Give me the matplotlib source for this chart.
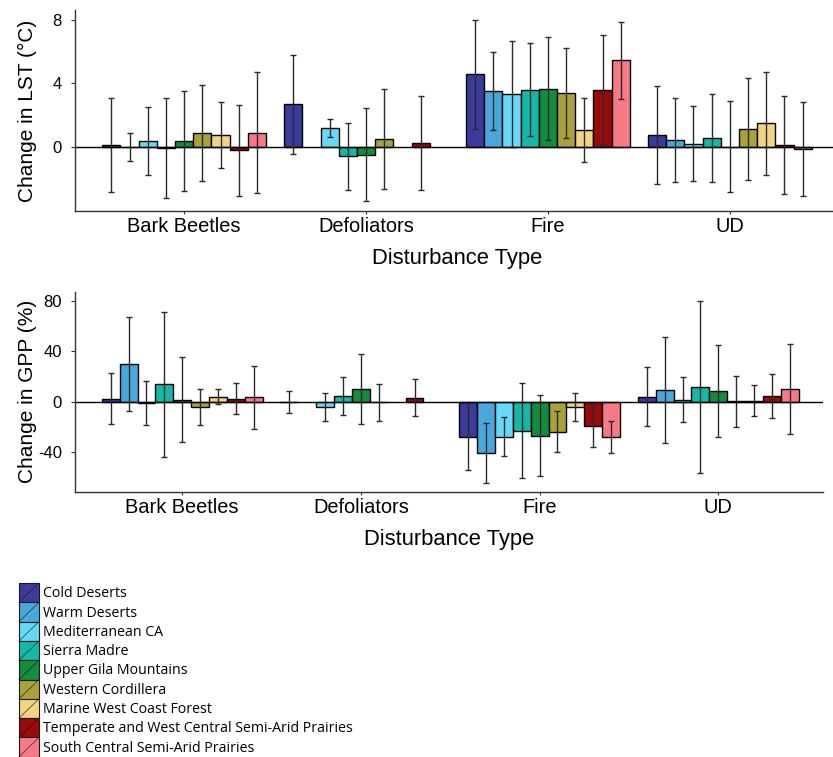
import numpy as np
import matplotlib
matplotlib.use("Agg")
import matplotlib.pyplot as plt
import matplotlib.transforms as mtransforms
from matplotlib.patches import Rectangle
from matplotlib.lines import Line2D
from matplotlib.legend_handler import HandlerBase

plt.rcParams['font.family'] = ['Liberation Sans', 'DejaVu Sans']
plt.rcParams['axes.unicode_minus'] = False

nan = np.nan

disturbances = ["Bark Beetles", "Defoliators", "Fire", "UD"]
ecoregions = ["Cold Deserts", "Warm Deserts", "Mediterranean CA", "Sierra Madre",
              "Upper Gila Mountains", "Western Cordillera", "Marine West Coast Forest",
              "Temperate and West Central Semi-Arid Prairies",
              "South Central Semi-Arid Prairies"]
colors = ["#3b3b9c", "#48a8dc", "#66d9f7", "#14b8a6", "#138c3e",
          "#aaa238", "#f0d484", "#990a0a", "#f57a86"]

# rows = disturbance type, columns = ecoregion
lst_mean = [
    [0.12, 0.03, 0.38, -0.06, 0.38, 0.90, 0.77, -0.20, 0.92],
    [2.68, nan, 1.23, -0.57, -0.46, 0.53, nan, 0.24, nan],
    [4.56, 3.52, 3.33, 3.60, 3.66, 3.39, 1.08, 3.59, 5.44],
    [0.77, 0.46, 0.22, 0.58, 0.02, 1.14, 1.49, 0.14, -0.12],
]
lst_err = [
    [2.95, 0.88, 2.15, 3.12, 3.12, 3.00, 2.06, 2.87, 3.78],
    [3.13, nan, 0.56, 2.10, 2.92, 3.12, nan, 2.94, nan],
    [3.40, 2.45, 3.33, 2.90, 3.22, 2.80, 2.00, 3.43, 2.42],
    [3.08, 2.63, 2.35, 2.76, 2.85, 3.18, 3.23, 3.05, 2.96],
]
gpp_mean = [
    [2.6, 30.0, -0.6, 13.8, 1.8, -4.0, 4.1, 2.5, 3.6],
    [-0.5, nan, -4.2, 4.3, 10.1, -0.5, nan, 3.3, nan],
    [-27.4, -40.5, -27.5, -22.7, -26.8, -23.5, -4.0, -19.3, -27.7],
    [4.0, 9.2, 1.8, 11.8, 8.5, 0.3, 1.0, 4.4, 9.9],
]
gpp_err = [
    [20.5, 37.2, 17.4, 57.4, 33.5, 14.0, 5.9, 12.4, 24.8],
    [8.7, nan, 11.0, 15.0, 28.0, 14.4, nan, 14.5, nan],
    [26.2, 23.5, 15.5, 37.6, 32.0, 16.4, 11.0, 16.4, 12.7],
    [23.2, 42.0, 18.0, 68.0, 36.3, 20.3, 12.4, 17.5, 35.6],
]


class DiagBox(HandlerBase):
    # legend patch with a single diagonal stroke
    def create_artists(self, legend, orig_handle, xdescent, ydescent,
                       width, height, fontsize, trans):
        x0, y0 = -xdescent, -ydescent
        r = Rectangle((x0, y0), width, height, facecolor=orig_handle.get_facecolor(),
                      edgecolor="#1a1a1a", lw=0.8, transform=trans)
        l = Line2D([x0, x0 + width], [y0, y0 + height], color="#1a1a1a",
                   lw=0.6, alpha=0.7, transform=trans)
        return [r, l]


W, H = 833, 757
fig = plt.figure(figsize=(W / 100, H / 100), dpi=100)

ax1 = fig.add_axes([75 / W, 1 - 211 / H, 764 / W, 201 / H])
ax2 = fig.add_axes([75 / W, 1 - 491.7 / H, 748 / W, 200 / H])

bw = 0.1
x = np.arange(len(disturbances))


def draw_panel(ax, mean, err, ylim, yticks, ylabel, xmax):
    mean = np.array(mean)
    err = np.array(err)
    for j in range(len(ecoregions)):
        pos = x + (j - 4) * bw
        ax.bar(pos, mean[:, j], width=bw, color=colors[j], edgecolor="black",
               linewidth=1.0, zorder=2)
        ax.errorbar(pos, mean[:, j], yerr=err[:, j], fmt="none", ecolor="#2a2a2a",
                    elinewidth=1.0, capsize=2, capthick=1.0, zorder=3)
    ax.axhline(0, color="black", lw=1.0, zorder=4)
    ax.set_xlim(-0.6, xmax)
    ax.set_ylim(*ylim)
    ax.set_yticks(yticks)
    ax.set_xticks(x)
    ax.set_xticklabels(disturbances, fontsize=14.4)
    ax.tick_params(axis="y", labelsize=12, length=2.9, pad=6.6, color="#333333")
    ax.tick_params(axis="x", length=2.2, pad=2.0, color="#333333")
    for s in ["top", "right"]:
        ax.spines[s].set_visible(False)
    for s in ["left", "bottom"]:
        ax.spines[s].set_color("#333333")
        ax.spines[s].set_linewidth(1.0)
    ax.set_xlabel("Disturbance Type", fontsize=15.8, labelpad=9)
    ax.set_ylabel(ylabel, fontsize=15)
    tr = mtransforms.blended_transform_factory(fig.transFigure, ax.transAxes)
    ax.yaxis.set_label_coords(37 / W, 0.5, transform=tr)


draw_panel(ax1, lst_mean, lst_err, (-4.0, 8.6), [0, 4, 8], "Change in LST (\u00b0C)", 3.6)
draw_panel(ax2, gpp_mean, gpp_err, (-71, 87), [-40, 0, 40, 80], "Change in GPP (%)", 3.586)

handles = [Rectangle((0, 0), 1, 1, facecolor=c) for c in colors]
fig.legend(handles, ecoregions, loc="upper left",
           bbox_to_anchor=(19 / W, 1 - 583 / H), borderaxespad=0, borderpad=0,
           frameon=False, prop={"family": "Open Sans", "size": 10.2},
           handlelength=1.41, handleheight=1.72, handletextpad=0.28,
           labelspacing=0, handler_map={Rectangle: DiagBox()})

fig.savefig("out.png", dpi=100)
